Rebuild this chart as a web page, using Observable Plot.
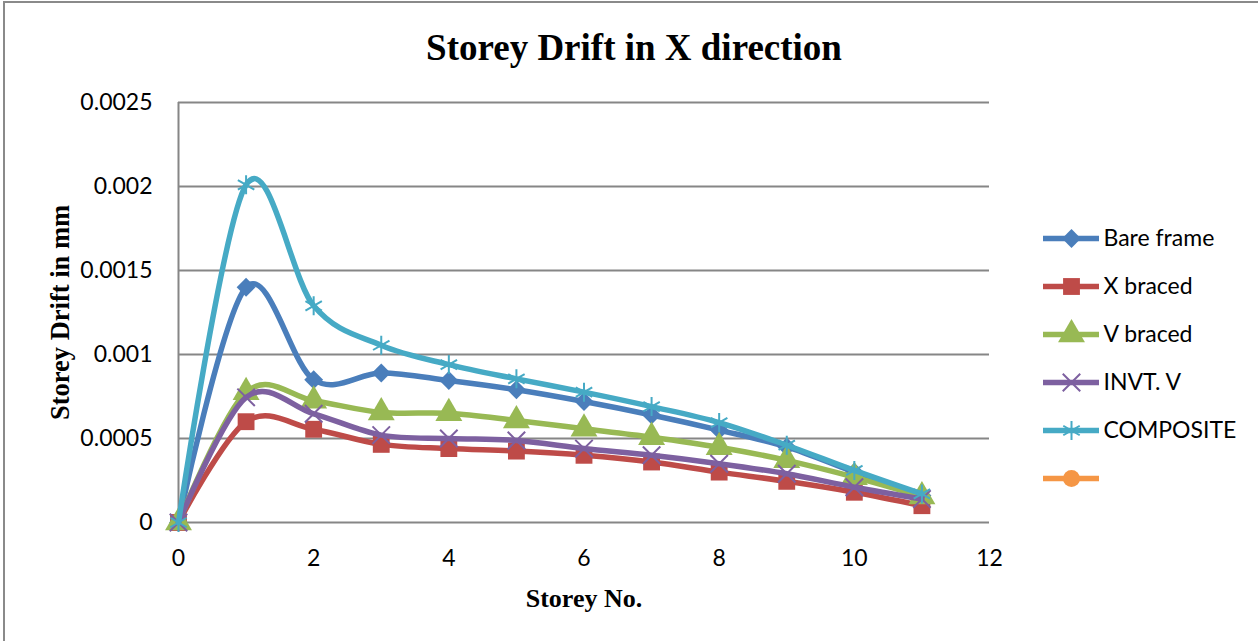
<!DOCTYPE html>
<html>
<head>
<meta charset="utf-8">
<script src="https://cdn.jsdelivr.net/npm/d3@7"></script>
<script src="https://cdn.jsdelivr.net/npm/@observablehq/plot@0.6"></script>
<style>
  html, body { margin: 0; padding: 0; background: white; }
  #wrap { position: relative; width: 1258px; height: 641px; overflow: hidden; background: white; }
  #frame { position: absolute; left: 3px; top: 1px; width: 1300px; height: 700px;
           border-left: 2px solid #8a8a8a; border-top: 2px solid #8a8a8a; box-sizing: border-box; }
  #chart { position: absolute; left: 0; top: 0; }
  #legend { position: absolute; left: 1035px; top: 210px; }
</style>
</head>
<body>
<div id="wrap"><div id="frame"></div><div id="chart"></div><div id="legend"></div></div>
<script>
// ---- data ----
const storeys = [0, 1, 2, 3, 4, 5, 6, 7, 8, 9, 10, 11];
const bareFrame = [0, 0.0014, 0.00085, 0.00089, 0.000845, 0.00079, 0.00072, 0.00064, 0.00055, 0.00045, 0.0003, 0.00016];
const xBraced   = [0, 0.0006, 0.000555, 0.000465, 0.00044, 0.000425, 0.0004, 0.00036, 0.0003, 0.000245, 0.00018, 0.0001];
const vBraced   = [0, 0.000775, 0.000725, 0.000655, 0.00065, 0.000607, 0.000558, 0.000508, 0.000448, 0.00037, 0.00027, 0.000155];
const invtV     = [0, 0.000745, 0.000647, 0.00052, 0.0005, 0.000488, 0.00044, 0.0004, 0.00035, 0.00029, 0.00021, 0.00014];
const composite = [0, 0.00201, 0.00129, 0.001055, 0.00094, 0.000855, 0.000776, 0.00069, 0.000595, 0.00046, 0.00031, 0.00017];
const seriesNames = ["Bare frame", "X braced", "V braced", "INVT. V", "COMPOSITE", ""];
const seriesValues = [bareFrame, xBraced, vBraced, invtV, composite, []];
const seriesColors = ["#4a7ebb", "#be4b48", "#98b954", "#7d60a0", "#46aac5", "#f59645"];
const seriesSymbols = ["diamond2", "square", "triangle", "times", "asterisk", "circle"];
const xTicks = [0, 2, 4, 6, 8, 10, 12];
const yTicks = [0, 0.0005, 0.001, 0.0015, 0.002, 0.0025];
const titleText = "Storey Drift in X direction";
const xLabel = "Storey No.";
const yLabel = "Storey Drift in mm";

const filledSym = s => !(s === "times" || s === "asterisk");
const symR = {diamond2: 8.5, square: 9.5, triangle: 10, times: 8, asterisk: 9, circle: 8.5};

// ---- main chart ----
const marks = [
  Plot.gridY(yTicks, {stroke: "#868686", strokeOpacity: 1, strokeWidth: 2}),
  Plot.ruleX([0], {y1: 0, y2: 0.0025, stroke: "#868686", strokeWidth: 2}),
  Plot.axisY({ticks: yTicks, tickSize: 0, tickPadding: 26, label: null,
              tickFormat: d => d === 0 ? "0" : String(+d.toFixed(4))}),
  Plot.axisX({ticks: xTicks, tickSize: 0, tickPadding: 27, label: null})
];
seriesNames.forEach((name, i) => {
  const vals = seriesValues[i];
  if (!vals.length) return;
  const data = vals.map((v, j) => ({x: storeys[j], y: v}));
  marks.push(Plot.line(data, {x: "x", y: "y", stroke: seriesColors[i], strokeWidth: 5.5,
                              curve: "cardinal", tension: 0}));
  const sym = seriesSymbols[i];
  marks.push(Plot.dot(data, filledSym(sym)
    ? {x: "x", y: "y", symbol: () => sym, fill: seriesColors[i], r: symR[sym], stroke: "none"}
    : {x: "x", y: "y", symbol: () => sym, stroke: seriesColors[i], r: symR[sym], strokeWidth: 2, fill: "none"}));
});
marks.push(Plot.text([titleText], {text: d => d, frameAnchor: "top", lineAnchor: "middle", textAnchor: "middle",
  dx: 50, dy: -54, fontFamily: "Liberation Serif", fontWeight: "bold", fontSize: 37, fill: "black"}));
marks.push(Plot.text([xLabel], {text: d => d, frameAnchor: "bottom", lineAnchor: "middle", textAnchor: "middle",
  dy: 76, fontFamily: "Liberation Serif", fontWeight: "bold", fontSize: 26, fill: "black"}));
marks.push(Plot.text([yLabel], {text: d => d, frameAnchor: "left", lineAnchor: "middle", textAnchor: "middle",
  dx: -118, rotate: -90, fontFamily: "Liberation Serif", fontWeight: "bold", fontSize: 26.5, fill: "black"}));

const chart = Plot.plot({
  width: 1258, height: 641,
  marginLeft: 178, marginRight: 269, marginTop: 102, marginBottom: 119,
  x: {domain: [0, 12]},
  y: {domain: [0, 0.0025]},
  symbol: {type: "identity"},
  style: {fontFamily: "Lato, sans-serif", fontSize: "23px", color: "black", background: "transparent", overflow: "visible"},
  marks
});
document.getElementById("chart").appendChild(chart);

// ---- legend ----
const legendData = seriesNames.map((name, i) => ({i, name, color: seriesColors[i], sym: seriesSymbols[i]}));
const legendMarks = [
  Plot.ruleY(legendData, {y: "i", x1: 0, x2: 1, stroke: "color", strokeWidth: 5.5}),
];
legendData.forEach(d => {
  legendMarks.push(Plot.dot([d], filledSym(d.sym)
    ? {x: () => 0.5, y: "i", symbol: () => d.sym, fill: d.color, r: symR[d.sym], stroke: "none"}
    : {x: () => 0.5, y: "i", symbol: () => d.sym, stroke: d.color, r: symR[d.sym], strokeWidth: 2, fill: "none"}));
});
legendMarks.push(Plot.text(legendData, {x: () => 1, y: "i", text: "name", dx: 4, textAnchor: "start", fill: "black"}));
const legend = Plot.plot({
  width: 223, height: 300,
  margin: 0,
  x: {domain: [0, 1], range: [8, 64], axis: null},
  y: {type: "point", domain: d3.range(6), range: [28, 268], padding: 0, axis: null},
  color: {type: "identity"},
  symbol: {type: "identity"},
  style: {fontFamily: "Lato, sans-serif", fontSize: "23px", color: "black", background: "transparent", overflow: "visible"},
  marks: legendMarks
});
document.getElementById("legend").appendChild(legend);
</script>
</body>
</html>
